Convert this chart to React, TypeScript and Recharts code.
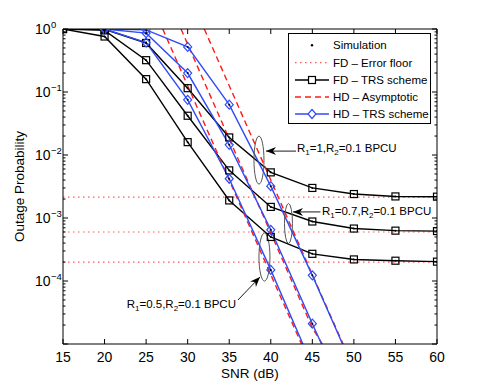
import React from 'react'
import { LineChart, Line, XAxis, YAxis, ReferenceDot, Legend } from 'recharts'

const FONT = '"Liberation Sans", Arial, Helvetica, sans-serif'

// x axis ticks (SNR in dB)
const snrTicks = [15, 20, 25, 30, 35, 40, 45, 50, 55, 60]
// y axis decades, minor ticks 2..9 in between
const decades = [1e-5, 1e-4, 1e-3, 1e-2, 1e-1]
const yTicks = [...decades.flatMap(d => [1, 2, 3, 4, 5, 6, 7, 8, 9].map(m => m * d)), 1]

// FD - TRS scheme (black squares)
const fdSnr = [15, 20, 25, 30, 35, 40, 45, 50, 55, 60]
const fdR1 = [1, 0.99, 0.6, 0.115, 0.019, 0.0053, 0.003, 0.0024, 0.0022, 0.00218]
const fdR07 = [1, 0.95, 0.32, 0.042, 0.0057, 0.0015, 0.00088, 0.00068, 0.00063, 0.00062]
const fdR05 = [1, 0.76, 0.16, 0.016, 0.0019, 0.0005, 0.00027, 0.00022, 0.00021, 0.000203]

// FD - error floor (red dotted)
const floorSnr = [15, 60]
const floorR1 = [0.00215, 0.00215]
const floorR07 = [0.0006, 0.0006]
const floorR05 = [0.0002, 0.0002]

// HD - TRS scheme (blue diamonds)
const hdSnr = [20, 25, 30, 35, 40, 45, 50]
const hdR1 = [1, 0.97, 0.52, 0.063, 0.0032, 1.23e-4, 3.9e-6]
const hdR07 = [1, 0.86, 0.2, 0.0145, 6.5e-4, 2.1e-5, 7.4e-7]
const hdR05 = [1, 0.61, 0.075, 0.0042, 1.5e-4, 4.5e-6]

// HD - asymptotic (red dashed)
const asymSnrR1 = [32, 35, 40, 45, 48.7]
const asymR1 = [1, 0.126, 0.004, 1.26e-4, 1e-5]
const asymSnrR07 = [29.2, 35, 40, 45, 46.2]
const asymR07 = [1, 0.018, 5.8e-4, 1.8e-5, 1e-5]
const asymSnrR05 = [27, 30, 35, 40, 43.7]
const asymR05 = [1, 0.126, 0.004, 1.26e-4, 1e-5]

const BLUE = '#2f4cf5'
const RED = '#ff1a1a'
const FLOOR = '#ff5a5a'

const pts = (xs: number[], ys: number[]) => xs.map((snr, i) => ({ snr, p: ys[i] }))
const inRange = (v: number) => v >= 1e-5 * 0.999 && v <= 1.001

const isDecade = (v: number) => Math.abs(Math.log10(v) - Math.round(Math.log10(v))) < 1e-6

const SquareDot = (props: any) => {
  const { cx, cy, payload, index } = props
  if (!inRange(payload.p)) return <g key={index} />
  return (
    <g key={index}>
      <rect x={cx - 3.5} y={cy - 3.5} width={7} height={7} fill="none" stroke="#000" strokeWidth={1.2} />
      <circle cx={cx} cy={cy} r={1} fill="#000" />
    </g>
  )
}

const DiamondDot = (props: any) => {
  const { cx, cy, payload, index } = props
  if (!inRange(payload.p)) return <g key={index} />
  return (
    <g key={index}>
      <polygon
        points={`${cx},${cy - 4.5} ${cx + 4},${cy} ${cx},${cy + 4.5} ${cx - 4},${cy}`}
        fill="none"
        stroke={BLUE}
        strokeWidth={1.2}
      />
      <circle cx={cx} cy={cy} r={1} fill="#000" />
    </g>
  )
}

// ticks drawn inward, MATLAB style
const LeftTick = (props: any) => {
  const { x, y, payload } = props
  const v = payload.value
  const major = isDecade(v)
  const exp = Math.round(Math.log10(v))
  return (
    <g>
      <line x1={x} x2={x + (major ? 5 : 2.5)} y1={y} y2={y} stroke="#000" strokeWidth={1} />
      {major && exp > -5 && (
        <g fontFamily={FONT} fill="#000">
          <text x={x - 12.5} y={y + 5} textAnchor="end" fontSize={14}>10</text>
          <text x={x - 12} y={y - 1.5} textAnchor="start" fontSize={9.5}>{exp === 0 ? '0' : `\u2212${-exp}`}</text>
        </g>
      )}
    </g>
  )
}

const RightTick = (props: any) => {
  const { x, y, payload } = props
  const major = isDecade(payload.value)
  return <line x1={x} x2={x - (major ? 5 : 2.5)} y1={y} y2={y} stroke="#000" strokeWidth={1} />
}

const BottomTick = (props: any) => {
  const { x, y, payload } = props
  return (
    <g>
      <line x1={x} x2={x} y1={y} y2={y - 5} stroke="#000" strokeWidth={1} />
      <text x={x} y={y + 17.5} textAnchor="middle" fontSize={14} fontFamily={FONT} fill="#000">
        {payload.value}
      </text>
    </g>
  )
}

const TopTick = (props: any) => {
  const { x, y } = props
  return <line x1={x} x2={x} y1={y} y2={y + 5} stroke="#000" strokeWidth={1} />
}

const YTitle = (props: any) => {
  const vb = props.viewBox
  const cy = vb.y + vb.height / 2
  return (
    <text
      x={24}
      y={cy}
      transform={`rotate(-90 24 ${cy})`}
      textAnchor="middle"
      fontSize={13.5}
      fontFamily={FONT}
      fill="#000"
    >
      Outage Probability
    </text>
  )
}

function arrowHead(x1: number, y1: number, x2: number, y2: number) {
  const dx = x2 - x1
  const dy = y2 - y1
  const len = Math.sqrt(dx * dx + dy * dy)
  const ux = dx / len
  const uy = dy / len
  const L = 10
  const W = 4
  const bx = x2 - ux * L
  const by = y2 - uy * L
  const nx = x2 - ux * 7
  const ny = y2 - uy * 7
  return `${x2},${y2} ${bx - uy * W},${by + ux * W} ${nx},${ny} ${bx + uy * W},${by - ux * W}`
}

const RateLabel = ({ r1 }: { r1: string }) => (
  <>
    <tspan>R</tspan>
    <tspan fontSize={8} dy={3}>1</tspan>
    <tspan dy={-3}>{`=${r1},R`}</tspan>
    <tspan fontSize={8} dy={3}>2</tspan>
    <tspan dy={-3}>=0.1 BPCU</tspan>
  </>
)

const Annotation = (props: any) => {
  const { cx, cy, rx, ry, ax1, ay1, ax2, ay2, tx, ty, anchor, r1 } = props
  return (
    <g>
      <ellipse cx={cx} cy={cy} rx={rx} ry={ry} fill="none" stroke="#555" strokeWidth={1} />
      <line x1={cx + ax1} y1={cy + ay1} x2={cx + ax2} y2={cy + ay2} stroke="#000" strokeWidth={0.9} />
      <polygon points={arrowHead(cx + ax1, cy + ay1, cx + ax2, cy + ay2)} fill="#000" />
      <text x={cx + tx} y={cy + ty} textAnchor={anchor} fontSize={11.5} fontFamily={FONT} fill="#000">
        <RateLabel r1={r1} />
      </text>
    </g>
  )
}

const LegendBox = () => {
  const rows = [12.3, 29.7, 47, 64, 81]
  const txt = (y: number, s: string) => (
    <text x={45} y={y + 4} fontSize={11.5} fontFamily={FONT} fill="#000">{s}</text>
  )
  return (
    <svg width={144} height={92} style={{ display: 'block' }}>
      <rect x={0.5} y={0.5} width={142} height={90} fill="#fff" stroke="#000" strokeWidth={1} />
      <circle cx={24} cy={rows[0]} r={1.2} fill="#000" />
      {txt(rows[0], 'Simulation')}
      <line x1={7} x2={41} y1={rows[1]} y2={rows[1]} stroke={FLOOR} strokeWidth={1.2} strokeDasharray="1.5 3.5" />
      {txt(rows[1], 'FD \u2013 Error floor')}
      <line x1={7} x2={41} y1={rows[2]} y2={rows[2]} stroke="#000" strokeWidth={1.4} />
      <rect x={20.5} y={rows[2] - 3.5} width={7} height={7} fill="#fff" stroke="#000" strokeWidth={1.2} />
      {txt(rows[2], 'FD \u2013 TRS scheme')}
      <line x1={7} x2={41} y1={rows[3]} y2={rows[3]} stroke={RED} strokeWidth={1.4} strokeDasharray="6 4" />
      {txt(rows[3], 'HD \u2013 Asymptotic')}
      <line x1={7} x2={41} y1={rows[4]} y2={rows[4]} stroke={BLUE} strokeWidth={1.4} />
      <polygon
        points={`24,${rows[4] - 4.5} 28,${rows[4]} 24,${rows[4] + 4.5} 20,${rows[4]}`}
        fill="#fff"
        stroke={BLUE}
        strokeWidth={1.2}
      />
      {txt(rows[4], 'HD \u2013 TRS scheme')}
    </svg>
  )
}

export default function App() {
  const common = { type: 'linear' as const, dataKey: 'p', isAnimationActive: false, legendType: 'none' as const }
  return (
    <div style={{ position: 'absolute', left: 0, top: 0, background: '#fff' }}>
      <LineChart
        width={482}
        height={388}
        margin={{ top: 28, right: 44, bottom: 0, left: 0 }}
        style={{ fontFamily: FONT }}
      >
        <XAxis
          dataKey="snr"
          type="number"
          domain={[15, 60]}
          allowDataOverflow
          ticks={snrTicks}
          interval={0}
          height={44}
          tickSize={0}
          tickMargin={0}
          tickLine={false}
          axisLine={{ stroke: '#000' }}
          tick={BottomTick}
          label={{ value: 'SNR (dB)', position: 'insideBottom', offset: 10, fill: '#000', fontSize: 13.5 }}
        />
        <XAxis
          xAxisId="top"
          orientation="top"
          dataKey="snr"
          type="number"
          domain={[15, 60]}
          allowDataOverflow
          ticks={snrTicks}
          interval={0}
          height={1}
          tickSize={0}
          tickMargin={0}
          tickLine={false}
          axisLine={{ stroke: '#000' }}
          tick={TopTick}
        />
        <YAxis
          scale="log"
          type="number"
          domain={[1e-5, 1]}
          allowDataOverflow
          ticks={yTicks}
          interval={0}
          width={63}
          tickSize={0}
          tickMargin={0}
          tickLine={false}
          axisLine={{ stroke: '#000' }}
          tick={LeftTick}
          label={{ content: YTitle }}
        />
        <YAxis
          yAxisId="right"
          orientation="right"
          scale="log"
          type="number"
          domain={[1e-5, 1]}
          allowDataOverflow
          ticks={yTicks}
          interval={0}
          width={1}
          tickSize={0}
          tickMargin={0}
          tickLine={false}
          axisLine={{ stroke: '#000' }}
          tick={RightTick}
        />

        <Line {...common} data={pts(floorSnr, floorR1)} stroke={FLOOR} strokeWidth={1.2} strokeDasharray="1.5 3.5" dot={false} />
        <Line {...common} data={pts(floorSnr, floorR07)} stroke={FLOOR} strokeWidth={1.2} strokeDasharray="1.5 3.5" dot={false} />
        <Line {...common} data={pts(floorSnr, floorR05)} stroke={FLOOR} strokeWidth={1.2} strokeDasharray="1.5 3.5" dot={false} />

        <Line {...common} data={pts(fdSnr, fdR1)} stroke="#000" strokeWidth={1.4} dot={SquareDot} />
        <Line {...common} data={pts(fdSnr, fdR07)} stroke="#000" strokeWidth={1.4} dot={SquareDot} />
        <Line {...common} data={pts(fdSnr, fdR05)} stroke="#000" strokeWidth={1.4} dot={SquareDot} />

        <Line {...common} data={pts(asymSnrR1, asymR1)} stroke={RED} strokeWidth={1.4} strokeDasharray="6 4" dot={false} />
        <Line {...common} data={pts(asymSnrR07, asymR07)} stroke={RED} strokeWidth={1.4} strokeDasharray="6 4" dot={false} />
        <Line {...common} data={pts(asymSnrR05, asymR05)} stroke={RED} strokeWidth={1.4} strokeDasharray="6 4" dot={false} />

        <Line {...common} data={pts(hdSnr, hdR1)} stroke={BLUE} strokeWidth={1.4} dot={DiamondDot} />
        <Line {...common} data={pts(hdSnr, hdR07)} stroke={BLUE} strokeWidth={1.4} dot={DiamondDot} />
        <Line {...common} data={pts(hdSnr.slice(0, hdR05.length), hdR05)} stroke={BLUE} strokeWidth={1.4} dot={DiamondDot} />

        <ReferenceDot
          x={38.58}
          y={8.3e-3}
          shape={(p: any) => (
            <Annotation cx={p.cx} cy={p.cy} rx={5} ry={24} ax1={37} ay1={-9} ax2={7} ay2={-9} tx={38} ty={-8} anchor="start" r1="1" />
          )}
        />
        <ReferenceDot
          x={42.13}
          y={8.2e-4}
          shape={(p: any) => (
            <Annotation cx={p.cx} cy={p.cy} rx={4} ry={20} ax1={32} ay1={-11.5} ax2={4.5} ay2={-11.5} tx={33.5} ty={-8.5} anchor="start" r1="0.7" />
          )}
        />
        <ReferenceDot
          x={39.24}
          y={2.4e-4}
          shape={(p: any) => (
            <Annotation cx={p.cx} cy={p.cy} rx={5.5} ry={24} ax1={-26.5} ay1={43} ax2={-4.5} ay2={20} tx={-28.5} ty={51} anchor="end" r1="0.5" />
          )}
        />

        <Legend
          layout="vertical"
          verticalAlign="middle"
          align="center"
          wrapperStyle={{ top: 33, left: 288, width: 144, height: 92 }}
          content={LegendBox}
        />
      </LineChart>
    </div>
  )
}
